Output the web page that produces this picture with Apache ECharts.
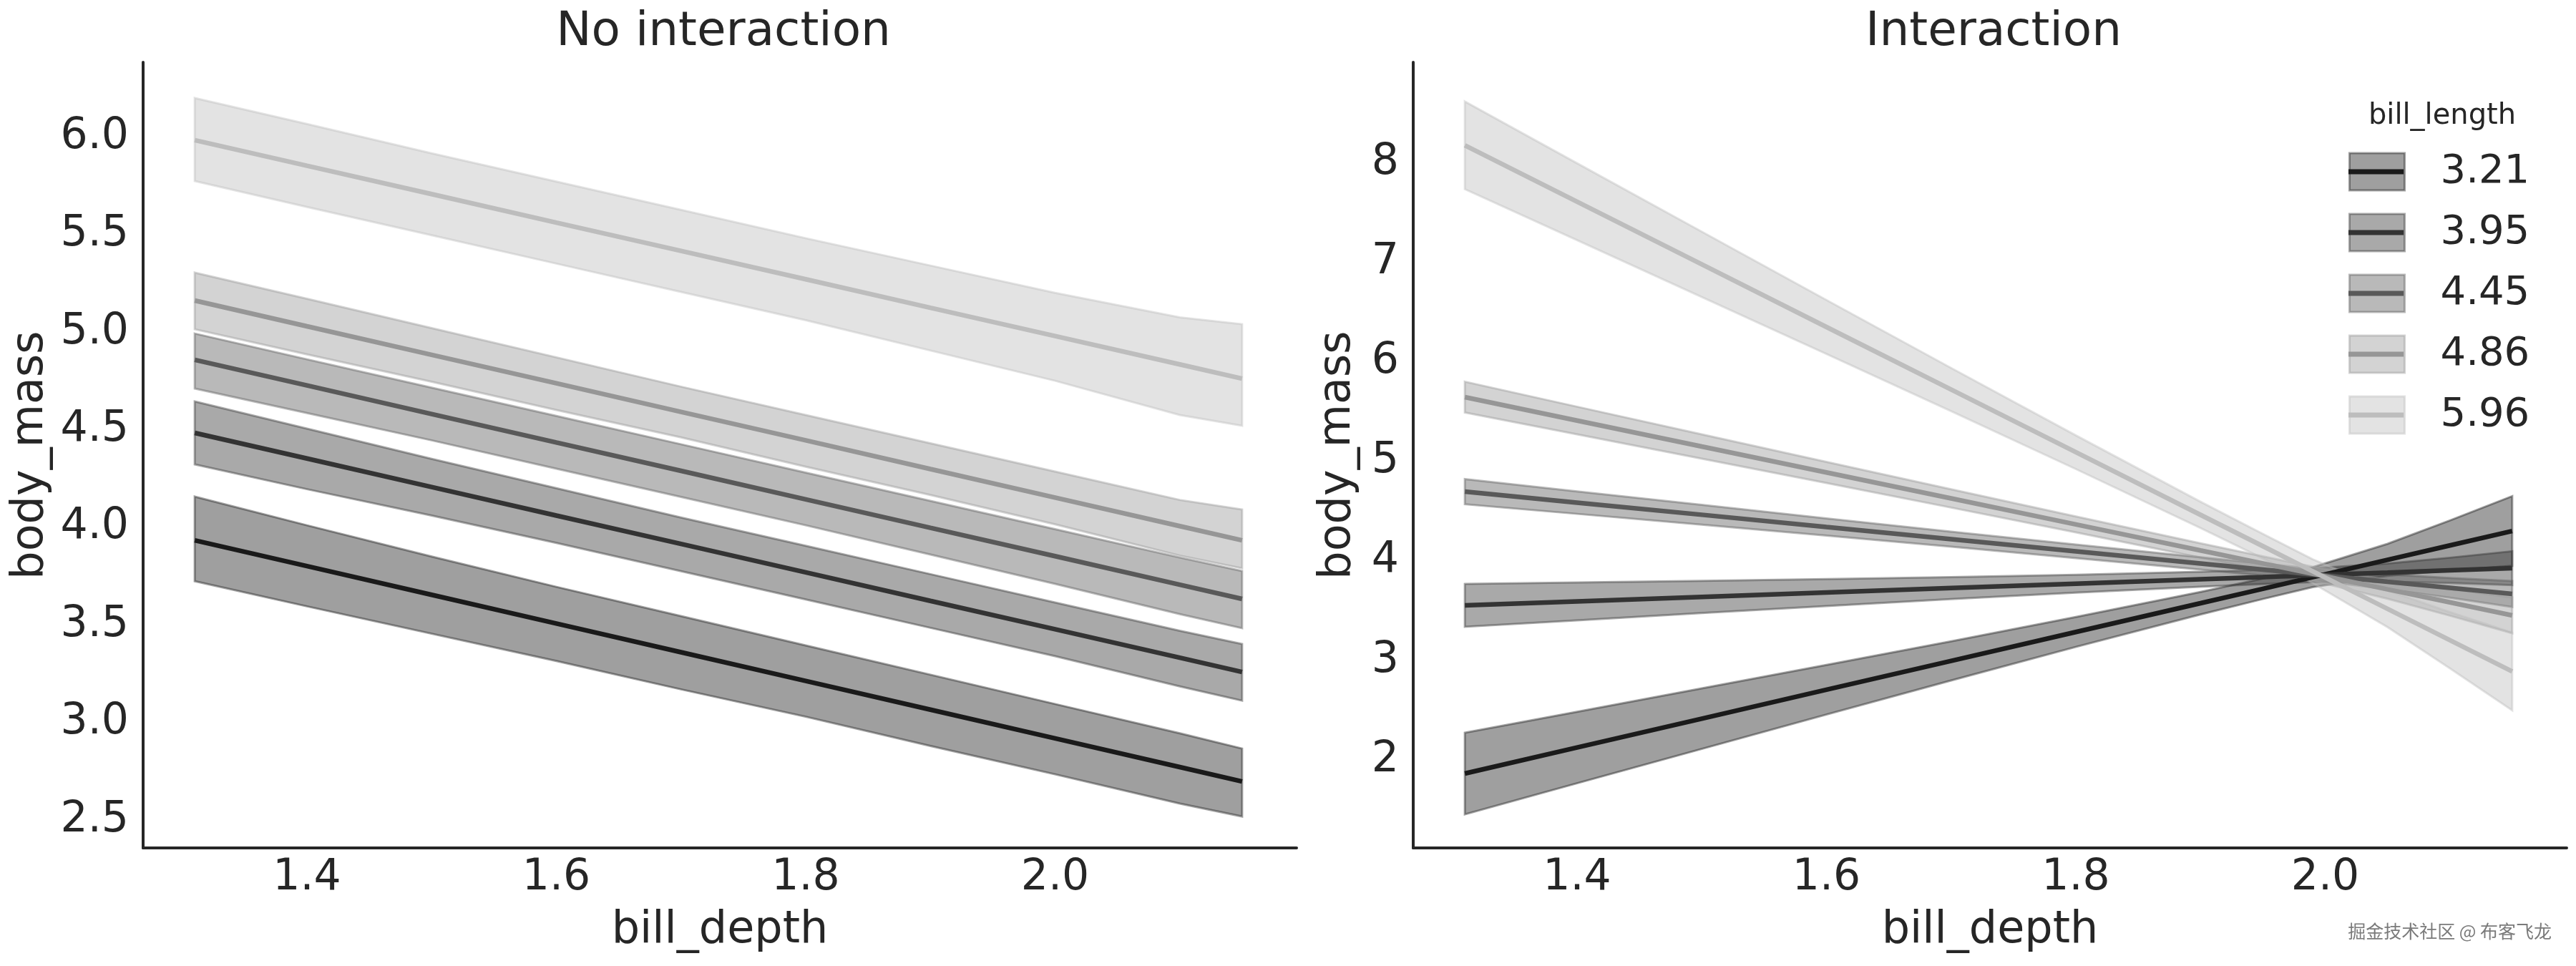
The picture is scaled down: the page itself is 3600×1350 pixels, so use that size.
<!DOCTYPE html>
<html>
<head>
<meta charset="utf-8">
<script src="https://cdn.jsdelivr.net/npm/echarts@6/dist/echarts.min.js"></script>
<style>
html,body{margin:0;padding:0;background:#ffffff;}
#chart{width:3600px;height:1350px;}
</style>
</head>
<body>
<div id="chart"></div>
<script>
// ---------- data ----------
const noIntDepth = [1.31, 1.40, 1.50, 1.60, 1.70, 1.80, 1.90, 2.00, 2.10, 2.15];
const intDepth   = [1.31, 1.40, 1.50, 1.60, 1.70, 1.80, 1.90, 1.95, 1.99, 2.05, 2.10, 2.15];
const billLengths = ['3.21', '3.95', '4.45', '4.86', '5.96'];

const xTicks = [1.4, 1.6, 1.8, 2.0];
const yTicksNoInt = [2.5, 3.0, 3.5, 4.0, 4.5, 5.0, 5.5, 6.0];
const yTicksInt = [2, 3, 4, 5, 6, 7, 8];

// No interaction panel
const noInt321Mean = [3.933, 3.801, 3.654, 3.507, 3.360, 3.213, 3.066, 2.919, 2.772, 2.698];
const noInt321Hi   = [4.157, 4.010, 3.850, 3.695, 3.545, 3.395, 3.245, 3.095, 2.945, 2.867];
const noInt321Lo   = [3.724, 3.595, 3.455, 3.315, 3.170, 3.030, 2.880, 2.735, 2.585, 2.519];

const noInt395Mean = [4.483, 4.352, 4.206, 4.060, 3.915, 3.769, 3.623, 3.478, 3.332, 3.259];
const noInt395Hi   = [4.644, 4.505, 4.350, 4.200, 4.050, 3.905, 3.760, 3.615, 3.470, 3.402];
const noInt395Lo   = [4.322, 4.195, 4.060, 3.920, 3.775, 3.630, 3.485, 3.340, 3.185, 3.112];

const noInt445Mean = [4.857, 4.726, 4.580, 4.434, 4.289, 4.143, 3.997, 3.852, 3.706, 3.633];
const noInt445Hi   = [4.992, 4.860, 4.715, 4.570, 4.425, 4.280, 4.135, 3.990, 3.845, 3.776];
const noInt445Lo   = [4.710, 4.585, 4.445, 4.300, 4.155, 4.010, 3.860, 3.710, 3.555, 3.483];

const noInt486Mean = [5.161, 5.029, 4.883, 4.737, 4.591, 4.445, 4.298, 4.152, 4.006, 3.933];
const noInt486Hi   = [5.304, 5.170, 5.020, 4.870, 4.720, 4.575, 4.430, 4.285, 4.140, 4.091];
const noInt486Lo   = [5.014, 4.885, 4.745, 4.600, 4.460, 4.310, 4.165, 4.015, 3.855, 3.790];

const noInt596Mean = [5.982, 5.851, 5.706, 5.560, 5.415, 5.270, 5.124, 4.979, 4.834, 4.761];
const noInt596Hi   = [6.198, 6.065, 5.915, 5.770, 5.625, 5.480, 5.340, 5.200, 5.075, 5.040];
const noInt596Lo   = [5.773, 5.640, 5.495, 5.350, 5.205, 5.060, 4.905, 4.750, 4.575, 4.520];

// Interaction panel
const int321Mean = [1.865, 2.126, 2.416, 2.706, 2.996, 3.286, 3.575, 3.720, 3.836, 4.010, 4.155, 4.300];
const int321Hi   = [2.275, 2.485, 2.720, 2.955, 3.193, 3.436, 3.688, 3.823, 3.936, 4.171, 4.406, 4.650];
const int321Lo   = [1.455, 1.767, 2.112, 2.457, 2.799, 3.136, 3.462, 3.617, 3.736, 3.849, 3.904, 3.950];

const int395Mean = [3.553, 3.593, 3.638, 3.682, 3.727, 3.771, 3.816, 3.838, 3.856, 3.882, 3.905, 3.927];
const int395Hi   = [3.768, 3.783, 3.800, 3.818, 3.838, 3.861, 3.891, 3.909, 3.926, 3.973, 4.032, 4.097];
const int395Lo   = [3.338, 3.403, 3.476, 3.546, 3.616, 3.681, 3.741, 3.767, 3.786, 3.791, 3.778, 3.757];

const int445Mean = [4.695, 4.585, 4.463, 4.340, 4.218, 4.096, 3.974, 3.913, 3.864, 3.790, 3.729, 3.668];
const int445Hi   = [4.821, 4.698, 4.563, 4.427, 4.294, 4.164, 4.036, 3.973, 3.924, 3.864, 3.828, 3.798];
const int445Lo   = [4.569, 4.472, 4.363, 4.253, 4.142, 4.028, 3.912, 3.853, 3.804, 3.716, 3.630, 3.538];

const int486Mean = [5.644, 5.409, 5.148, 4.888, 4.627, 4.366, 4.105, 3.975, 3.871, 3.714, 3.584, 3.453];
const int486Hi   = [5.799, 5.548, 5.270, 4.994, 4.719, 4.446, 4.177, 4.045, 3.941, 3.808, 3.718, 3.633];
const int486Lo   = [5.489, 5.270, 5.026, 4.782, 4.535, 4.286, 4.033, 3.905, 3.801, 3.620, 3.450, 3.273];

const int596Mean = [8.172, 7.606, 6.977, 6.348, 5.720, 5.091, 4.462, 4.148, 3.896, 3.519, 3.204, 2.890];
const int596Hi   = [8.612, 7.992, 7.305, 6.619, 5.937, 5.260, 4.594, 4.271, 4.016, 3.703, 3.486, 3.280];
const int596Lo   = [7.732, 7.220, 6.649, 6.077, 5.503, 4.922, 4.330, 4.025, 3.776, 3.335, 2.922, 2.500];

// ---------- styles ----------
const FONT = 'DejaVu Sans';
const TXT = '#262626';
const lineColors = ['#1a1a1a', '#333333', '#595959', '#969696', '#bdbdbd'];
const bandAlpha = 0.42;
function rgba(hex, a) {
  const r = parseInt(hex.slice(1, 3), 16), g = parseInt(hex.slice(3, 5), 16), b = parseInt(hex.slice(5, 7), 16);
  return 'rgba(' + r + ',' + g + ',' + b + ',' + a + ')';
}

const panels = [
  { xs: noIntDepth,
    mean: [noInt321Mean, noInt395Mean, noInt445Mean, noInt486Mean, noInt596Mean],
    hi:   [noInt321Hi, noInt395Hi, noInt445Hi, noInt486Hi, noInt596Hi],
    lo:   [noInt321Lo, noInt395Lo, noInt445Lo, noInt486Lo, noInt596Lo] },
  { xs: intDepth,
    mean: [int321Mean, int395Mean, int445Mean, int486Mean, int596Mean],
    hi:   [int321Hi, int395Hi, int445Hi, int486Hi, int596Hi],
    lo:   [int321Lo, int395Lo, int445Lo, int486Lo, int596Lo] }
];

function bandSeries(name, axisIdx, xs, lo, hi, color) {
  const fill = rgba(color, bandAlpha);
  return {
    type: 'custom', name: name + ' band',
    xAxisIndex: axisIdx, yAxisIndex: axisIdx,
    clip: false, silent: true, animation: false,
    data: xs.map((x, i) => [x, lo[i], hi[i]]),
    encode: { x: 0, y: [1, 2] },
    renderItem: function (params, api) {
      if (params.dataIndexInside !== 0) return null;
      const n = params.dataInsideLength;
      const up = [], dn = [];
      for (let i = 0; i < n; i++) {
        up.push(api.coord([api.value(0, i), api.value(2, i)]));
        dn.push(api.coord([api.value(0, i), api.value(1, i)]));
      }
      return {
        type: 'polygon',
        shape: { points: up.concat(dn.reverse()) },
        style: { fill: fill, stroke: fill, lineWidth: 3 }
      };
    }
  };
}

function lineSeries(name, axisIdx, xs, mean, color) {
  return {
    type: 'line', name: name,
    xAxisIndex: axisIdx, yAxisIndex: axisIdx,
    data: xs.map((x, i) => [x, mean[i]]),
    showSymbol: false, symbol: 'none', silent: true, animation: false,
    lineStyle: { color: color, width: 6.5 },
    itemStyle: { color: color }
  };
}

const series = [];
panels.forEach((p, pi) => {
  billLengths.forEach((name, k) => {
    series.push(bandSeries(name, pi, p.xs, p.lo[k], p.hi[k], lineColors[k]));
    series.push(lineSeries(name, pi, p.xs, p.mean[k], lineColors[k]));
  });
});

function xAxisCfg(gi) {
  return {
    gridIndex: gi, type: 'value', min: 1.2686, max: 2.1937,
    axisLine: { show: true, onZero: false, lineStyle: { color: TXT, width: 4 } },
    axisTick: { show: false }, splitLine: { show: false },
    axisLabel: { customValues: xTicks, formatter: v => v.toFixed(1), fontSize: 60, color: TXT, fontFamily: FONT, margin: 12 },
    name: 'bill_depth', nameLocation: 'middle', nameGap: 85,
    nameTextStyle: { fontSize: 62, color: TXT, fontFamily: FONT }
  };
}
function yAxisCfg(gi, min, max, ticks, fmt, gap) {
  return {
    gridIndex: gi, type: 'value', min: min, max: max,
    axisLine: { show: true, onZero: false, lineStyle: { color: TXT, width: 4 } },
    axisTick: { show: false }, splitLine: { show: false },
    axisLabel: { customValues: ticks, formatter: fmt, fontSize: 60, color: TXT, fontFamily: FONT, margin: 20 },
    name: 'body_mass', nameLocation: 'middle', nameGap: gap,
    nameTextStyle: { fontSize: 62, color: TXT, fontFamily: FONT }
  };
}

const legendCommon = {
  orient: 'vertical', left: 3282, top: 212, padding: 0,
  itemWidth: 77, itemGap: 29, icon: 'rect', selectedMode: false, align: 'left'
};

const option = {
  backgroundColor: '#ffffff',
  animation: false,
  title: [
    { text: 'No interaction', left: 1006, top: 8, textAlign: 'center',
      textStyle: { fontSize: 66, fontWeight: 'normal', color: TXT, fontFamily: FONT } },
    { text: 'Interaction', left: 2781, top: 8, textAlign: 'center',
      textStyle: { fontSize: 66, fontWeight: 'normal', color: TXT, fontFamily: FONT } },
    { text: 'bill_length', left: 3408, top: 138, textAlign: 'center',
      textStyle: { fontSize: 40, fontWeight: 'normal', color: TXT, fontFamily: FONT } }
  ],
  grid: [
    { left: 200, top: 87, width: 1612, height: 1098, containLabel: false },
    { left: 1975, top: 87, width: 1612, height: 1098, containLabel: false }
  ],
  xAxis: [xAxisCfg(0), xAxisCfg(1)],
  yAxis: [
    yAxisCfg(0, 2.358, 6.381, yTicksNoInt, v => v.toFixed(1), 126),
    yAxisCfg(1, 1.118, 9.006, yTicksInt, v => String(v), 74)
  ],
  legend: [
    Object.assign({}, legendCommon, {
      itemHeight: 52,
      data: billLengths.map((n, k) => ({
        name: n,
        itemStyle: { color: rgba(lineColors[k], bandAlpha), borderColor: rgba(lineColors[k], bandAlpha), borderWidth: 3 }
      })),
      textStyle: { fontSize: 56, lineHeight: 56, color: TXT, fontFamily: FONT, padding: [0, 0, 0, 45] }
    }),
    Object.assign({}, legendCommon, {
      itemHeight: 7,
      data: billLengths.map((n, k) => ({
        name: n,
        itemStyle: { color: lineColors[k], borderWidth: 0 }
      })),
      textStyle: { fontSize: 56, lineHeight: 56, color: 'rgba(0,0,0,0)', fontFamily: FONT, padding: [0, 0, 0, 45] }
    })
  ],
  graphic: [
    { type: 'text', right: 34, top: 1289,
      style: { text: '掘金技术社区 @ 布客飞龙', font: '25px "Noto Sans CJK SC"', fill: '#7a7a7a' } }
  ],
  series: series
};

const chart = echarts.init(document.getElementById('chart'), null, { renderer: 'canvas' });
chart.setOption(option);
</script>
</body>
</html>
